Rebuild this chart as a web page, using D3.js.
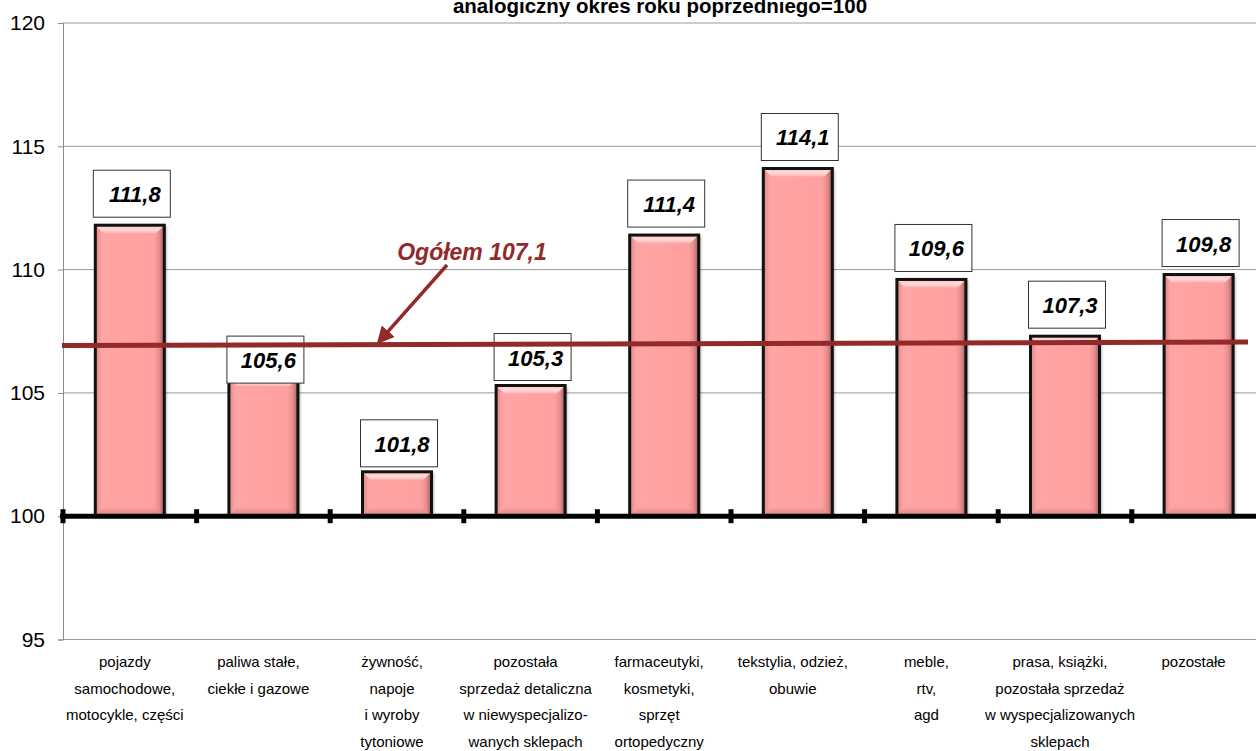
<!DOCTYPE html>
<html>
<head>
<meta charset="utf-8">
<script src="https://cdn.jsdelivr.net/npm/d3@7"></script>
<style>
  body { margin: 0; background: #fff; }
  svg { display: block; font-family: "Liberation Sans", Arial, sans-serif; }
</style>
</head>
<body>
<svg id="chart" width="1256" height="751"></svg>
<script>
"use strict";

// categories (lines of each label)
var categories = [
    ['pojazdy', 'samochodowe,', 'motocykle, części'],
    ['paliwa stałe,', 'ciekłe i gazowe'],
    ['żywność,', 'napoje', 'i wyroby', 'tytoniowe'],
    ['pozostała', 'sprzedaż detaliczna', 'w niewyspecjalizo-', 'wanych sklepach'],
    ['farmaceutyki,', 'kosmetyki,', 'sprzęt', 'ortopedyczny'],
    ['tekstylia, odzież,', 'obuwie'],
    ['meble,', 'rtv,', 'agd'],
    ['prasa, książki,', 'pozostała sprzedaż', 'w wyspecjalizowanych', 'sklepach'],
    ['pozostałe']
];
var values = [111.8, 105.6, 101.8, 105.3, 111.4, 114.1, 109.6, 107.3, 109.8];
var valueLabels = ['111,8', '105,6', '101,8', '105,3', '111,4', '114,1', '109,6', '107,3', '109,8'];
var yTicks = [95, 100, 105, 110, 115, 120];
var ogolem = 107.1;
var ogolemLabel = 'Ogółem 107,1';
var titleLine = 'analogiczny okres roku poprzedniego=100';

var svg = d3.select('#chart');
var W = 1256, H = 751;
var left = 63, step = 133.6;

var x = d3.scaleBand()
    .domain(d3.range(values.length))
    .range([left, left + step * values.length])
    .paddingInner(0.4835)
    .paddingOuter(0.2418);

var y = d3.scaleLinear().domain([95, 120]).range([639.5, 23]);

var red = '#922a2a';

// the average line is slightly tilted in the original
function avgY(px) {
    return y(ogolem) + 4.5 - 3.5 * (px - left) / (1248 - left);
}

// defs
var defs = svg.append('defs');
var g1 = defs.append('linearGradient').attr('id', 'barFill').attr('x1', 0).attr('x2', 1).attr('y1', 0).attr('y2', 0);
[['0%', '#d98686'], ['9%', '#ffa4a4'], ['85%', '#ffa0a0'], ['93%', '#e48c8c'], ['100%', '#9c5a5a']].forEach(function (s) {
    g1.append('stop').attr('offset', s[0]).attr('stop-color', s[1]);
});
var g2 = defs.append('linearGradient').attr('id', 'topBevel').attr('x1', 0).attr('x2', 0).attr('y1', 0).attr('y2', 1);
[['0%', '#ffc8c8'], ['60%', '#ffd9d9'], ['100%', '#ffb2b2']].forEach(function (s) {
    g2.append('stop').attr('offset', s[0]).attr('stop-color', s[1]);
});
var g3 = defs.append('linearGradient').attr('id', 'botBevel').attr('x1', 0).attr('x2', 0).attr('y1', 0).attr('y2', 1);
[['0%', '#f49a9a'], ['100%', '#c57a7a']].forEach(function (s) {
    g3.append('stop').attr('offset', s[0]).attr('stop-color', s[1]);
});
var shadow = defs.append('filter').attr('id', 'shadow').attr('x', '-20%').attr('y', '-20%').attr('width', '140%').attr('height', '140%');
shadow.append('feDropShadow').attr('dx', 2).attr('dy', 1).attr('stdDeviation', 1.5).attr('flood-color', '#000').attr('flood-opacity', 0.35);

var defsMarker = defs.append('marker')
    .attr('id', 'arrow')
    .attr('viewBox', '0 -5 10 10')
    .attr('refX', 8).attr('refY', 0)
    .attr('markerWidth', 5).attr('markerHeight', 5)
    .attr('markerUnits', 'strokeWidth')
    .attr('orient', 'auto');
defsMarker.append('path').attr('d', 'M0,-5L10,0L0,5Z').attr('fill', red);

// title (upper part runs off the top, as in the original)
svg.append('text')
    .attr('x', 660).attr('y', 13)
    .attr('text-anchor', 'middle')
    .style('font-size', '20.5px').style('font-weight', 'bold')
    .text(titleLine);

// gridlines
svg.append('g').selectAll('line')
    .data(yTicks.filter(function (d) { return d !== 100; }))
    .enter().append('line')
    .attr('x1', left).attr('x2', W)
    .attr('y1', function (d) { return y(d); }).attr('y2', function (d) { return y(d); })
    .attr('stroke', '#9a9a9a').attr('stroke-width', 1);

// y axis
var yAxis = svg.append('g').attr('transform', 'translate(' + left + ',0)')
    .call(d3.axisLeft(y).tickValues(yTicks).tickSize(5).tickPadding(13).tickFormat(d3.format('d')));
yAxis.select('.domain').attr('stroke', '#8a8a8a');
yAxis.selectAll('.tick line').attr('stroke', '#8a8a8a');
yAxis.selectAll('.tick text')
    .style('font-size', '21px').style('font-family', '"Liberation Sans", Arial, sans-serif').attr('fill', '#000');

// bars
var bars = svg.append('g').selectAll('g.bar')
    .data(values)
    .enter().append('g').classed('bar', true);

bars.each(function (v, i) {
    var g = d3.select(this);
    var bx = x(i), bw = x.bandwidth();
    var by = y(v), bh = y(100) - y(v);
    var b = Math.min(8, bh / 3);
    g.append('rect')
        .attr('x', bx).attr('y', by).attr('width', bw).attr('height', bh)
        .attr('fill', 'url(#barFill)')
        .attr('filter', 'url(#shadow)');
    g.append('path')
        .attr('d', 'M' + bx + ',' + by + 'H' + (bx + bw) + 'L' + (bx + bw - b) + ',' + (by + b) + 'H' + (bx + b) + 'Z')
        .attr('fill', 'url(#topBevel)');
    g.append('path')
        .attr('d', 'M' + bx + ',' + (by + bh) + 'H' + (bx + bw) + 'L' + (bx + bw - b) + ',' + (by + bh - b) + 'H' + (bx + b) + 'Z')
        .attr('fill', 'url(#botBevel)').attr('opacity', 0.7);
    g.append('rect')
        .attr('x', bx).attr('y', by).attr('width', bw).attr('height', bh)
        .attr('fill', 'none').attr('stroke', '#111').attr('stroke-width', 3);
});

// 100 baseline with category ticks
svg.append('line')
    .attr('x1', left - 3).attr('x2', W)
    .attr('y1', y(100)).attr('y2', y(100))
    .attr('stroke', '#000').attr('stroke-width', 5);
svg.append('g').selectAll('line')
    .data(d3.range(values.length))
    .enter().append('line')
    .attr('x1', function (i) { return left + i * x.step(); })
    .attr('x2', function (i) { return left + i * x.step(); })
    .attr('y1', y(100) - 7).attr('y2', y(100) + 7)
    .attr('stroke', '#000').attr('stroke-width', 5);

// value label boxes
var boxW = 77, boxH = 47;
var labels = svg.append('g').selectAll('g.lbl')
    .data(values)
    .enter().append('g').classed('lbl', true);
labels.each(function (v, i) {
    var g = d3.select(this);
    var cx = x(i) + x.bandwidth() / 2 + 2;
    var gap = i === 1 ? -5 : (v < 106 ? 5 : 8);
    var bottom = y(v) - gap;
    g.append('rect')
        .attr('x', cx - boxW / 2).attr('y', bottom - boxH)
        .attr('width', boxW).attr('height', boxH)
        .attr('fill', '#fff').attr('stroke', '#333').attr('stroke-width', 1);
    g.append('text')
        .attr('x', cx + 3).attr('y', bottom - boxH + 32)
        .attr('text-anchor', 'middle')
        .style('font-size', '22px').style('font-weight', 'bold').style('font-style', 'italic')
        .text(valueLabels[i]);
});

// average line and annotation (over the label boxes)
svg.append('line')
    .attr('x1', left - 1).attr('x2', 1248)
    .attr('y1', avgY(left - 1)).attr('y2', avgY(1248))
    .attr('stroke', red).attr('stroke-width', 5);
svg.append('line')
    .attr('x1', 447).attr('y1', 265)
    .attr('x2', 379).attr('y2', avgY(379) - 3)
    .attr('stroke', red).attr('stroke-width', 3.5)
    .attr('marker-end', 'url(#arrow)');
svg.append('text')
    .attr('x', 472).attr('y', 260)
    .attr('text-anchor', 'middle')
    .style('font-size', '23px').style('font-style', 'italic').style('font-weight', 'bold')
    .attr('fill', red)
    .text(ogolemLabel);

// category labels
var cat = svg.append('g').selectAll('text.cat')
    .data(categories)
    .enter().append('text').classed('cat', true)
    .attr('text-anchor', 'middle')
    .style('font-size', '15px');
cat.each(function (lines, i) {
    var t = d3.select(this);
    var cx = x(i) + x.bandwidth() / 2 - 5;
    lines.forEach(function (l, k) {
        t.append('tspan').attr('x', cx).attr('y', 667 + k * 26.5).text(l);
    });
});
</script>
</body>
</html>
